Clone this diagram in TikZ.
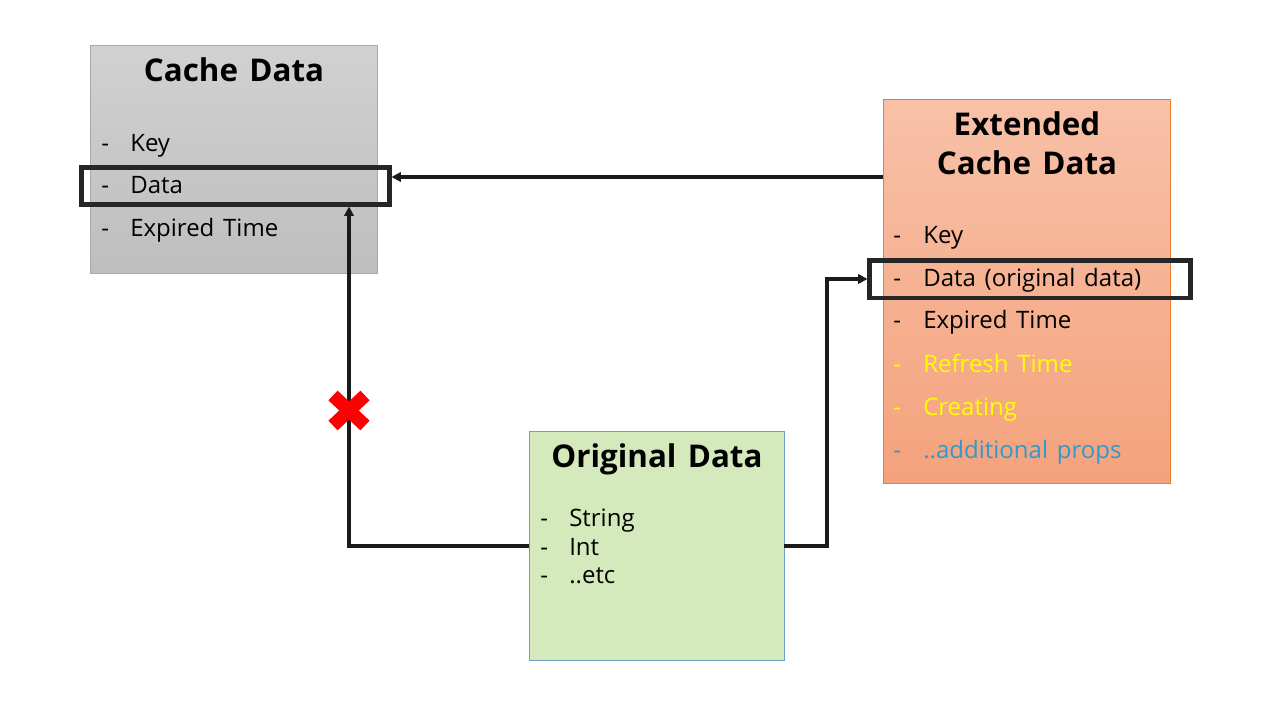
\documentclass[tikz,border=0pt]{standalone}
\usepackage{fontspec}
\setmainfont{Open Sans}[WordSpace={1.4,0.5,0.3}]
\usetikzlibrary{arrows.meta,calc}
\definecolor{grayTop}{HTML}{D1D1D1}
\definecolor{grayBot}{HTML}{BEBEBE}
\definecolor{grayLine}{HTML}{A8A8A8}
\definecolor{orTop}{HTML}{F8C1A8}
\definecolor{orBot}{HTML}{F4A27C}
\definecolor{orLine}{HTML}{ED7D31}
\definecolor{grFill}{HTML}{D5EABC}
\definecolor{grLine}{HTML}{6E9FC8}
\definecolor{hlLine}{HTML}{262626}
\definecolor{conLine}{HTML}{1A1A1A}
\definecolor{yel}{HTML}{FFFF00}
\definecolor{blu}{HTML}{2E9AD0}
\definecolor{xred}{HTML}{FF0000}
\tikzset{
  x=0.75pt, y=-0.75pt,
  box/.style={rectangle, anchor=north west, inner sep=0pt, outer sep=0pt, line width=0.75pt},
  ttl/.style={anchor=base, font=\fontsize{23.5}{29}\selectfont\bfseries, align=center, inner sep=0pt},
  itm/.style={anchor=base west, font=\fontsize{18}{22}\selectfont, inner sep=0pt},
  hl/.style={rectangle, draw=hlLine, line width=3.4pt, anchor=north west, inner sep=0pt, outer sep=0pt},
  con/.style={draw=conLine, line width=2.5pt, -{Triangle[length=7pt,width=7pt]}},
}
\begin{document}
\begin{tikzpicture}
\useasboundingbox (0,0) rectangle (1280,720);
% boxes
\node[box, draw=grayLine, top color=grayTop, bottom color=grayBot,
      minimum width=287*0.75pt, minimum height=227*0.75pt] (cache) at (90,46) {};
\node[box, draw=orLine, top color=orTop, bottom color=orBot,
      minimum width=287*0.75pt, minimum height=383*0.75pt] (ext) at (883,100) {};
\node[box, draw=grLine, fill=grFill,
      minimum width=255*0.75pt, minimum height=229*0.75pt] (orig) at (529,431) {};
% cache data texts
\node[ttl] (cacheT) at (234,82) {Cache Data};
\node[itm] (cd1) at (101,151.5) {-};
\node[itm] (ck) at (130,151.5) {Key};
\node[itm] (cd2) at (101,193.5) {-};
\node[itm] (cdata) at (130,193.5) {Data};
\node[itm] (cd3) at (101,236.5) {-};
\node[itm] (cexp) at (130,236.5) {Expired Time};
% extended texts
\node[ttl] (extT1) at (1027,136) {Extended};
\node[ttl] (extT2) at (1027,174.5) {Cache Data};
\node[itm] (ed1) at (893,243.5) {-};
\node[itm] (ek) at (923,243.5) {Key};
\node[itm] (ed2) at (893,286) {-};
\node[itm] (edata) at (923,286) {Data (original data)};
\node[itm] (ed3) at (893,328.5) {-};
\node[itm] (eexp) at (923,328.5) {Expired Time};
\node[itm, text=yel] (ed4) at (893,372) {-};
\node[itm, text=yel] (eref) at (923,372) {Refresh Time};
\node[itm, text=yel] (ed5) at (893,415) {-};
\node[itm, text=yel] (ecr) at (923,415) {Creating};
\node[itm, text=blu] (ed6) at (893,458) {-};
\node[itm, text=blu] (eadd) at (923,458) {..additional props};
% original texts
\node[ttl] (origT) at (657,467) {Original Data};
\node[itm] (od1) at (540,526.5) {-};
\node[itm] (os) at (569,526.5) {String};
\node[itm] (od2) at (540,555.5) {-};
\node[itm] (oi) at (569,555.5) {Int};
\node[itm] (od3) at (540,583.5) {-};
\node[itm] (oe) at (569,583.5) {..etc};
% highlight boxes
\node[hl, minimum width=308*0.75pt, minimum height=37*0.75pt] (hlC) at (81.5,167.5) {};
\node[hl, minimum width=321*0.75pt, minimum height=37.5*0.75pt] (hlE) at (869.5,260.5) {};
% connectors
\draw[con] (ext.west |- 0,177) -- ($(hlC.east |- 0,177)+(2,0)$);
\coordinate (bendA) at (349,546);
\draw[con] (orig.west |- bendA) -- (bendA) -- ($(hlC.south -| bendA)+(0,2)$);
\coordinate (bendB) at (827,546);
\coordinate (bendC) at (827,279);
\draw[con] (orig.east |- bendB) -- (bendB) -- (bendC) -- ($(hlE.west |- bendC)+(-2,0)$);
% red cross
\coordinate (xc) at (349,410.5);
\draw[xred, line width=10pt] ($(xc)+(-16,-15)$) -- ($(xc)+(16,15)$);
\draw[xred, line width=10pt] ($(xc)+(-16,15)$) -- ($(xc)+(16,-15)$);
\end{tikzpicture}
\end{document}
